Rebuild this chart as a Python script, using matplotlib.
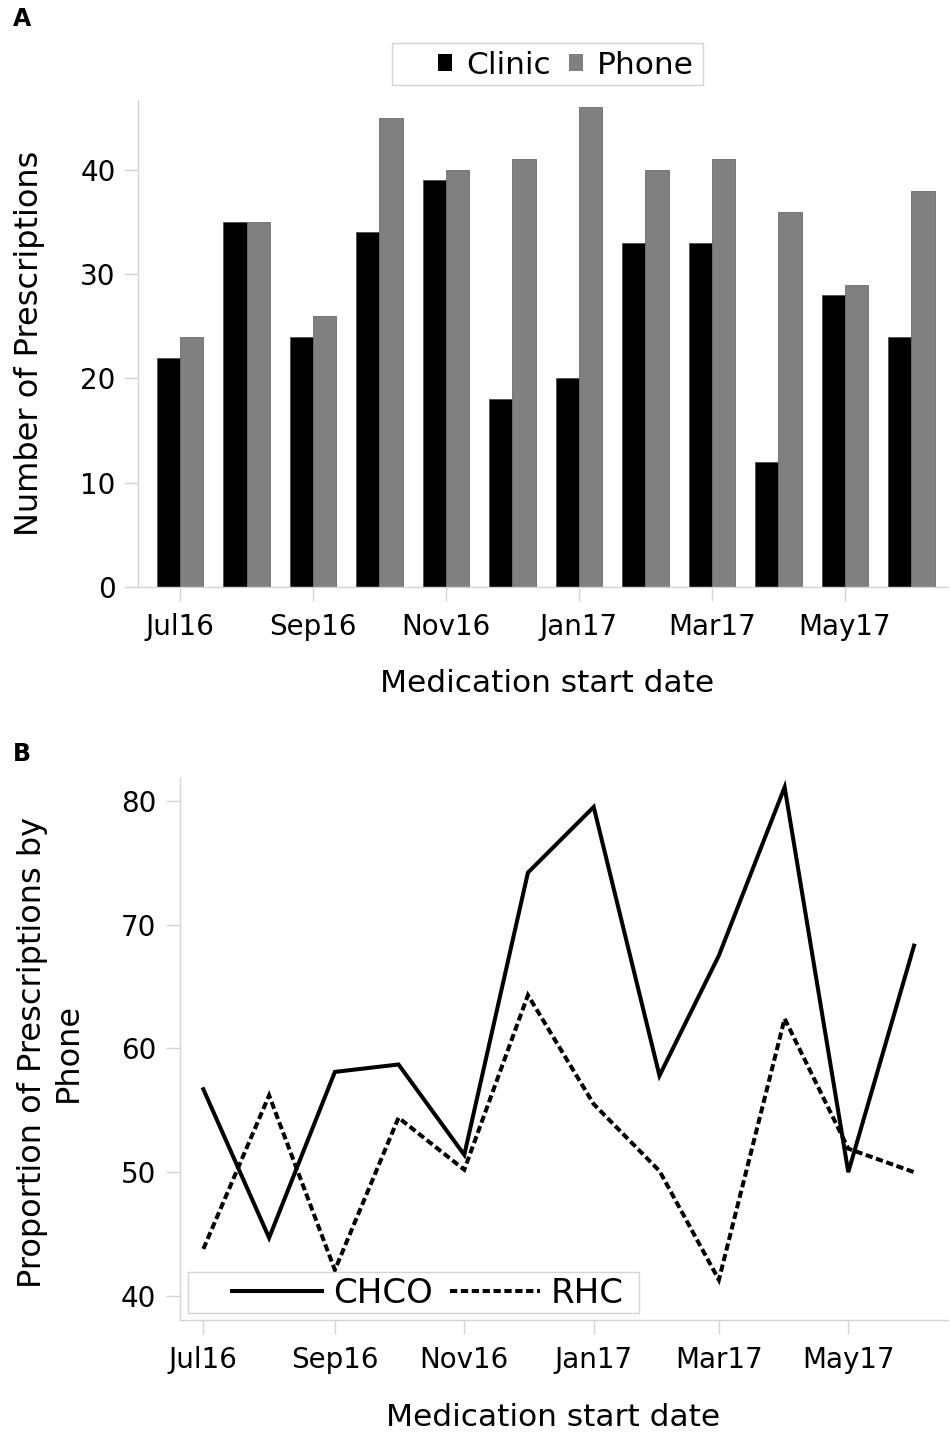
import numpy as np
import matplotlib
matplotlib.use("Agg")
import matplotlib.pyplot as plt
from matplotlib.patches import Patch, Rectangle

# ── Data ────────────────────────────────────────────────────────────────────────
months = ["Jul16", "Aug16", "Sep16", "Oct16", "Nov16", "Dec16",
          "Jan17", "Feb17", "Mar17", "Apr17", "May17", "Jun17"]
month_dates = np.array(["2016-07-01", "2016-08-01", "2016-09-01", "2016-10-01",
                        "2016-11-01", "2016-12-01", "2017-01-01", "2017-02-01",
                        "2017-03-01", "2017-04-01", "2017-05-01", "2017-06-01"],
                       dtype="datetime64[D]")

# panel A: number of prescriptions
clinic = [22, 35, 24, 34, 39, 18, 20, 33, 33, 12, 28, 24]
phone = [24, 35, 26, 45, 40, 41, 46, 40, 41, 36, 29, 38]

# panel B: proportion of prescriptions by phone (%)
chco = [56.7, 44.7, 58.1, 58.7, 51.4, 74.2, 79.5, 57.8, 67.5, 81.1, 50.0, 68.3]
rhc = [43.8, 56.2, 42.1, 54.4, 50.2, 64.3, 55.5, 50.1, 41.3, 62.4, 51.9, 50.0]

# ── Layout helpers (pixel -> figure fraction) ──────────────────────────────────
W, H = 950, 1437
def fx(px):
    return px / W
def fy(py):
    return 1 - py / H

AXIS_GREY = "#d4d4d4"
plt.rcParams["font.family"] = ["DejaVu Sans"]

fig = plt.figure(figsize=(W / 100, H / 100), dpi=100)
axA = fig.add_axes([fx(138), fy(587), (948 - 138) / W, (587 - 100) / H])
axB = fig.add_axes([fx(180), fy(1320), (948 - 180) / W, (1320 - 778) / H])

def style_axes(ax):
    for side in ("top", "right"):
        ax.spines[side].set_visible(False)
    for side in ("left", "bottom"):
        ax.spines[side].set_color(AXIS_GREY)
        ax.spines[side].set_linewidth(1)
    ax.tick_params(axis="both", color=AXIS_GREY, length=10, width=1, labelsize=20)
    ax.tick_params(axis="y", pad=6)
    ax.tick_params(axis="x", pad=9)

# ── Panel A: bars ──────────────────────────────────────────────────────────────
x = np.arange(len(months))
w = 0.35
axA.bar(x - w / 2, clinic, w, color="black", edgecolor="#4d4d4d", linewidth=0.6)
axA.bar(x + w / 2, phone, w, color="#808080", edgecolor="#6b6b6b", linewidth=0.6)
axA.set_xlim(-0.632, 11.55)
axA.set_ylim(0, 46.7)
axA.set_xticks(x[::2])
axA.set_xticklabels(months[::2])
axA.set_yticks([0, 10, 20, 30, 40])
style_axes(axA)

legA = fig.legend(
    [Patch(facecolor="black"), Patch(facecolor="#808080")], ["Clinic", "Phone"],
    loc="center left", bbox_to_anchor=(fx(438), fy(65.5)), bbox_transform=fig.transFigure,
    ncol=2, frameon=False, fontsize=22.5, handlelength=0.45, handleheight=0.45,
    handletextpad=0.45, columnspacing=0.58, borderpad=0, borderaxespad=0)
fig.add_artist(Rectangle((fx(391.7), fy(85)), (702.7 - 391.7) / W, (85 - 43.3) / H,
                         transform=fig.transFigure, fill=False,
                         edgecolor=AXIS_GREY, linewidth=1))

# ── Panel B: lines ─────────────────────────────────────────────────────────────
l1, = axB.plot(month_dates, chco, color="black", linewidth=2.9,
               solid_joinstyle="miter")
l2, = axB.plot(month_dates, rhc, color="black", linewidth=2.9,
               linestyle=(0, (1.8, 0.9)), dash_joinstyle="miter", dash_capstyle="butt")
axB.set_xlim(np.datetime64("2016-06-20"), np.datetime64("2017-06-17"))
axB.set_ylim(38.06, 81.84)
axB.set_xticks(month_dates[::2])
axB.set_xticklabels(months[::2])
axB.set_yticks([40, 50, 60, 70, 80])
style_axes(axB)
axB.tick_params(axis="y", pad=7)

axB.add_patch(Rectangle((fx(188.3), fy(1313.3)), (639.3 - 188.3) / W, (1313.3 - 1271.7) / H,
                        transform=fig.transFigure, facecolor="white",
                        edgecolor=AXIS_GREY, linewidth=1, zorder=5))
legB = fig.legend(
    [l1, l2], ["CHCO", "RHC"],
    loc="center left", bbox_to_anchor=(fx(232), fy(1293.5)), bbox_transform=fig.transFigure,
    ncol=2, frameon=False, fontsize=24.5, handlelength=2.65, handletextpad=0.32,
    columnspacing=0.5, borderpad=0, borderaxespad=0)
legB.set_zorder(6)

# ── Text ───────────────────────────────────────────────────────────────────────
fig.text(fx(22), fy(19), "A", fontsize=17, fontweight="bold", ha="center", va="center")
fig.text(fx(22), fy(754), "B", fontsize=17, fontweight="bold", ha="center", va="center")

fig.text(fx(30), fy(343), "Number of Prescriptions", rotation=90,
         fontsize=23, ha="center", va="center")
fig.text(fx(547), fy(684), "Medication start date", fontsize=22.5,
         ha="center", va="center")

fig.text(fx(50), fy(1052), "Proportion of Prescriptions by\nPhone", rotation=90,
         fontsize=23, ha="center", va="center", multialignment="center")
fig.text(fx(553), fy(1418), "Medication start date", fontsize=22.5,
         ha="center", va="center")

plt.savefig("out.png", dpi=100)
